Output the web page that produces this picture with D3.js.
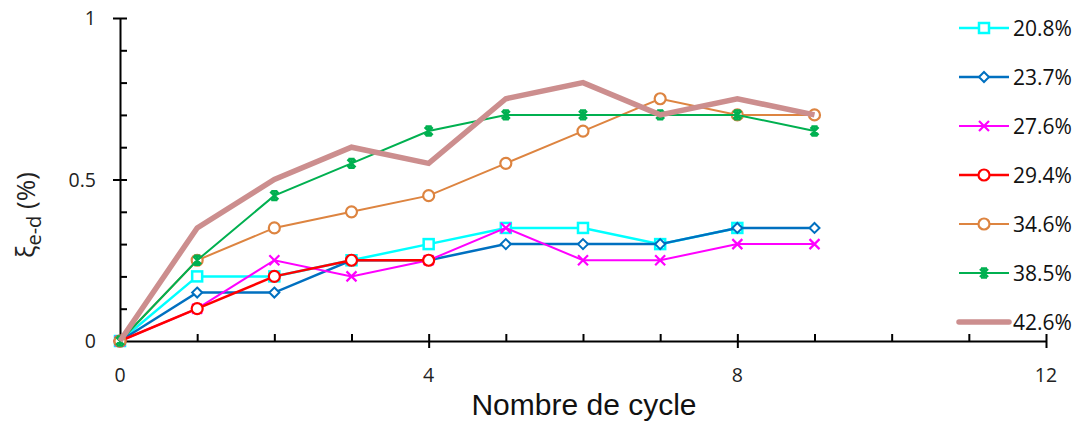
<!DOCTYPE html>
<html><head><meta charset="utf-8">
<script src="https://cdn.jsdelivr.net/npm/d3@7/dist/d3.min.js"></script>
<style>body{margin:0;background:#fff}svg{display:block}</style>
</head><body><svg id="c" width="1082" height="425"></svg>
<script>
const cycles = [0,1,2,3,4,5,6,7,8,9];
const labels = ["20.8%","23.7%","27.6%","29.4%","34.6%","38.5%","42.6%"];
const s208 = [0,0.2,0.2,0.25,0.3,0.35,0.35,0.3,0.35];
const s237 = [0,0.15,0.15,0.25,0.25,0.3,0.3,0.3,0.35,0.35];
const s276 = [0,0.1,0.25,0.2,0.25,0.35,0.25,0.25,0.3,0.3];
const s294 = [0,0.1,0.2,0.25,0.25];
const s346 = [0,0.25,0.35,0.4,0.45,0.55,0.65,0.75,0.7,0.7];
const s385 = [0,0.25,0.45,0.55,0.65,0.7,0.7,0.7,0.7,0.65];
const s426 = [0,0.35,0.5,0.6,0.55,0.75,0.8,0.7,0.75,0.7];
const xTicks = [0,4,8,12];
const yTicks = [0,0.5,1];

const series = [
  {name:labels[0], vals:s208, color:"#00FFFF", marker:"square", w:2.5},
  {name:labels[1], vals:s237, color:"#0070C0", marker:"diamond", w:2.5},
  {name:labels[2], vals:s276, color:"#FF00FF", marker:"x", w:2},
  {name:labels[3], vals:s294, color:"#FF0000", marker:"circle", w:2.5},
  {name:labels[4], vals:s346, color:"#DD8440", marker:"circle", w:2},
  {name:labels[5], vals:s385, color:"#00B050", marker:"star", w:2},
  {name:labels[6], vals:s426, color:"#CC8E8E", marker:"none", w:5.5}
];

const svg = d3.select("#c");
const x = d3.scaleLinear().domain([0,12]).range([120,1046]);
const y = d3.scaleLinear().domain([0,1]).range([341,18]);
const font = "'Open Sans', 'DejaVu Sans', sans-serif";

// axes
const gx = svg.append("g").attr("transform","translate(0,341)");
gx.call(d3.axisBottom(x).tickValues(d3.range(0,13,1)).tickSize(0).tickFormat(""));
gx.select(".domain").attr("stroke","#000").attr("stroke-width",2);
gx.selectAll(".tick").each(function(d){
  const t=d3.select(this);
  t.select("line").remove();
  if(d===0) return;
  const major = d%4===0;
  t.append("line").attr("y1",-7).attr("y2",major?7:0).attr("stroke","#000").attr("stroke-width",2);
});
xTicks.forEach(v=>{
  svg.append("text").attr("x",x(v)).attr("y",382).attr("text-anchor","middle")
    .attr("font-family",font).attr("font-size",19.5).attr("fill","#222").text(v);
});
const gy = svg.append("g").attr("transform","translate(120,0)");
gy.call(d3.axisLeft(y).tickValues(d3.range(0,11).map(i=>i/10)).tickSize(0).tickFormat(""));
gy.select(".domain").attr("stroke","#000").attr("stroke-width",2);
gy.selectAll(".tick").each(function(d){
  const t=d3.select(this);
  t.select("line").remove();
  if(d===0) return;
  const major = Math.abs(d*10%5)<1e-6;
  t.append("line").attr("x1",major?-7:0).attr("x2",7).attr("stroke","#000").attr("stroke-width",2);
});
yTicks.forEach(v=>{
  svg.append("text").attr("x",96).attr("y",y(v)+7).attr("text-anchor","end")
    .attr("font-family",font).attr("font-size",19.5).attr("fill","#222").text(v);
});

// titles
svg.append("text").attr("x",584).attr("y",415).attr("text-anchor","middle")
  .attr("font-family","'Liberation Sans Narrow','Liberation Sans',Arial,sans-serif").attr("font-size",30)
  .attr("fill","#111").style("font-stretch","condensed").text("Nombre de cycle");
const yt = svg.append("text").attr("transform","translate(35,215) rotate(-90)").attr("text-anchor","middle")
  .attr("font-family",font).attr("font-size",26).attr("fill","#222");
yt.append("tspan").text("ξ");
yt.append("tspan").attr("font-size",20).attr("dy",6).text("e-d");
yt.append("tspan").attr("dy",-6).text(" (%)");

function drawMarker(g, type, cx, cy, color){
  if(type==="square") g.append("rect").attr("x",cx-5).attr("y",cy-5).attr("width",10).attr("height",10)
      .attr("fill","#fff").attr("stroke",color).attr("stroke-width",2.5);
  else if(type==="circle") g.append("circle").attr("cx",cx).attr("cy",cy).attr("r",5.5)
      .attr("fill","#fff").attr("stroke",color).attr("stroke-width",2.2);
  else if(type==="diamond") g.append("path").attr("d",`M${cx},${cy-5}L${cx+5},${cy}L${cx},${cy+5}L${cx-5},${cy}Z`)
      .attr("fill","#fff").attr("stroke",color).attr("stroke-width",2);
  else if(type==="x") g.append("path").attr("d",`M${cx-5},${cy-5}L${cx+5},${cy+5}M${cx-5},${cy+5}L${cx+5},${cy-5}`)
      .attr("stroke",color).attr("stroke-width",2.2);
  else if(type==="star") g.append("path").attr("d",`M${cx-4},${cy-4}L${cx+4},${cy+4}M${cx-4},${cy+4}L${cx+4},${cy-4}M${cx},${cy-5}L${cx},${cy+5}M${cx-3},${cy-4.5}L${cx+3},${cy-4.5}M${cx-3},${cy+4.5}L${cx+3},${cy+4.5}`)
      .attr("stroke",color).attr("stroke-width",2.4);
}

const line = d3.line().x((d,i)=>x(cycles[i])).y(d=>y(d));
series.forEach(s=>{
  const g = svg.append("g");
  g.append("path").attr("d",line(s.vals)).attr("fill","none").attr("stroke",s.color)
    .attr("stroke-width",s.w).attr("stroke-linejoin","miter");
  if(s.marker!=="none") s.vals.forEach((v,i)=>drawMarker(g,s.marker,x(cycles[i]),y(v),s.color));
});

// legend
const ly0 = 28, ldy = 49;
series.forEach((s,i)=>{
  const ly = ly0 + i*ldy;
  const g = svg.append("g");
  g.append("line").attr("x1",959).attr("x2",1009).attr("y1",ly).attr("y2",ly)
    .attr("stroke",s.color).attr("stroke-width",s.w).attr("stroke-linecap",s.marker==="none"?"round":"butt");
  if(s.marker!=="none") drawMarker(g,s.marker,984,ly,s.color);
  g.append("text").attr("x",1013).attr("y",ly+7.5).attr("font-family",font).attr("font-size",21)
    .attr("fill","#111").text(s.name);
});
</script></body></html>
